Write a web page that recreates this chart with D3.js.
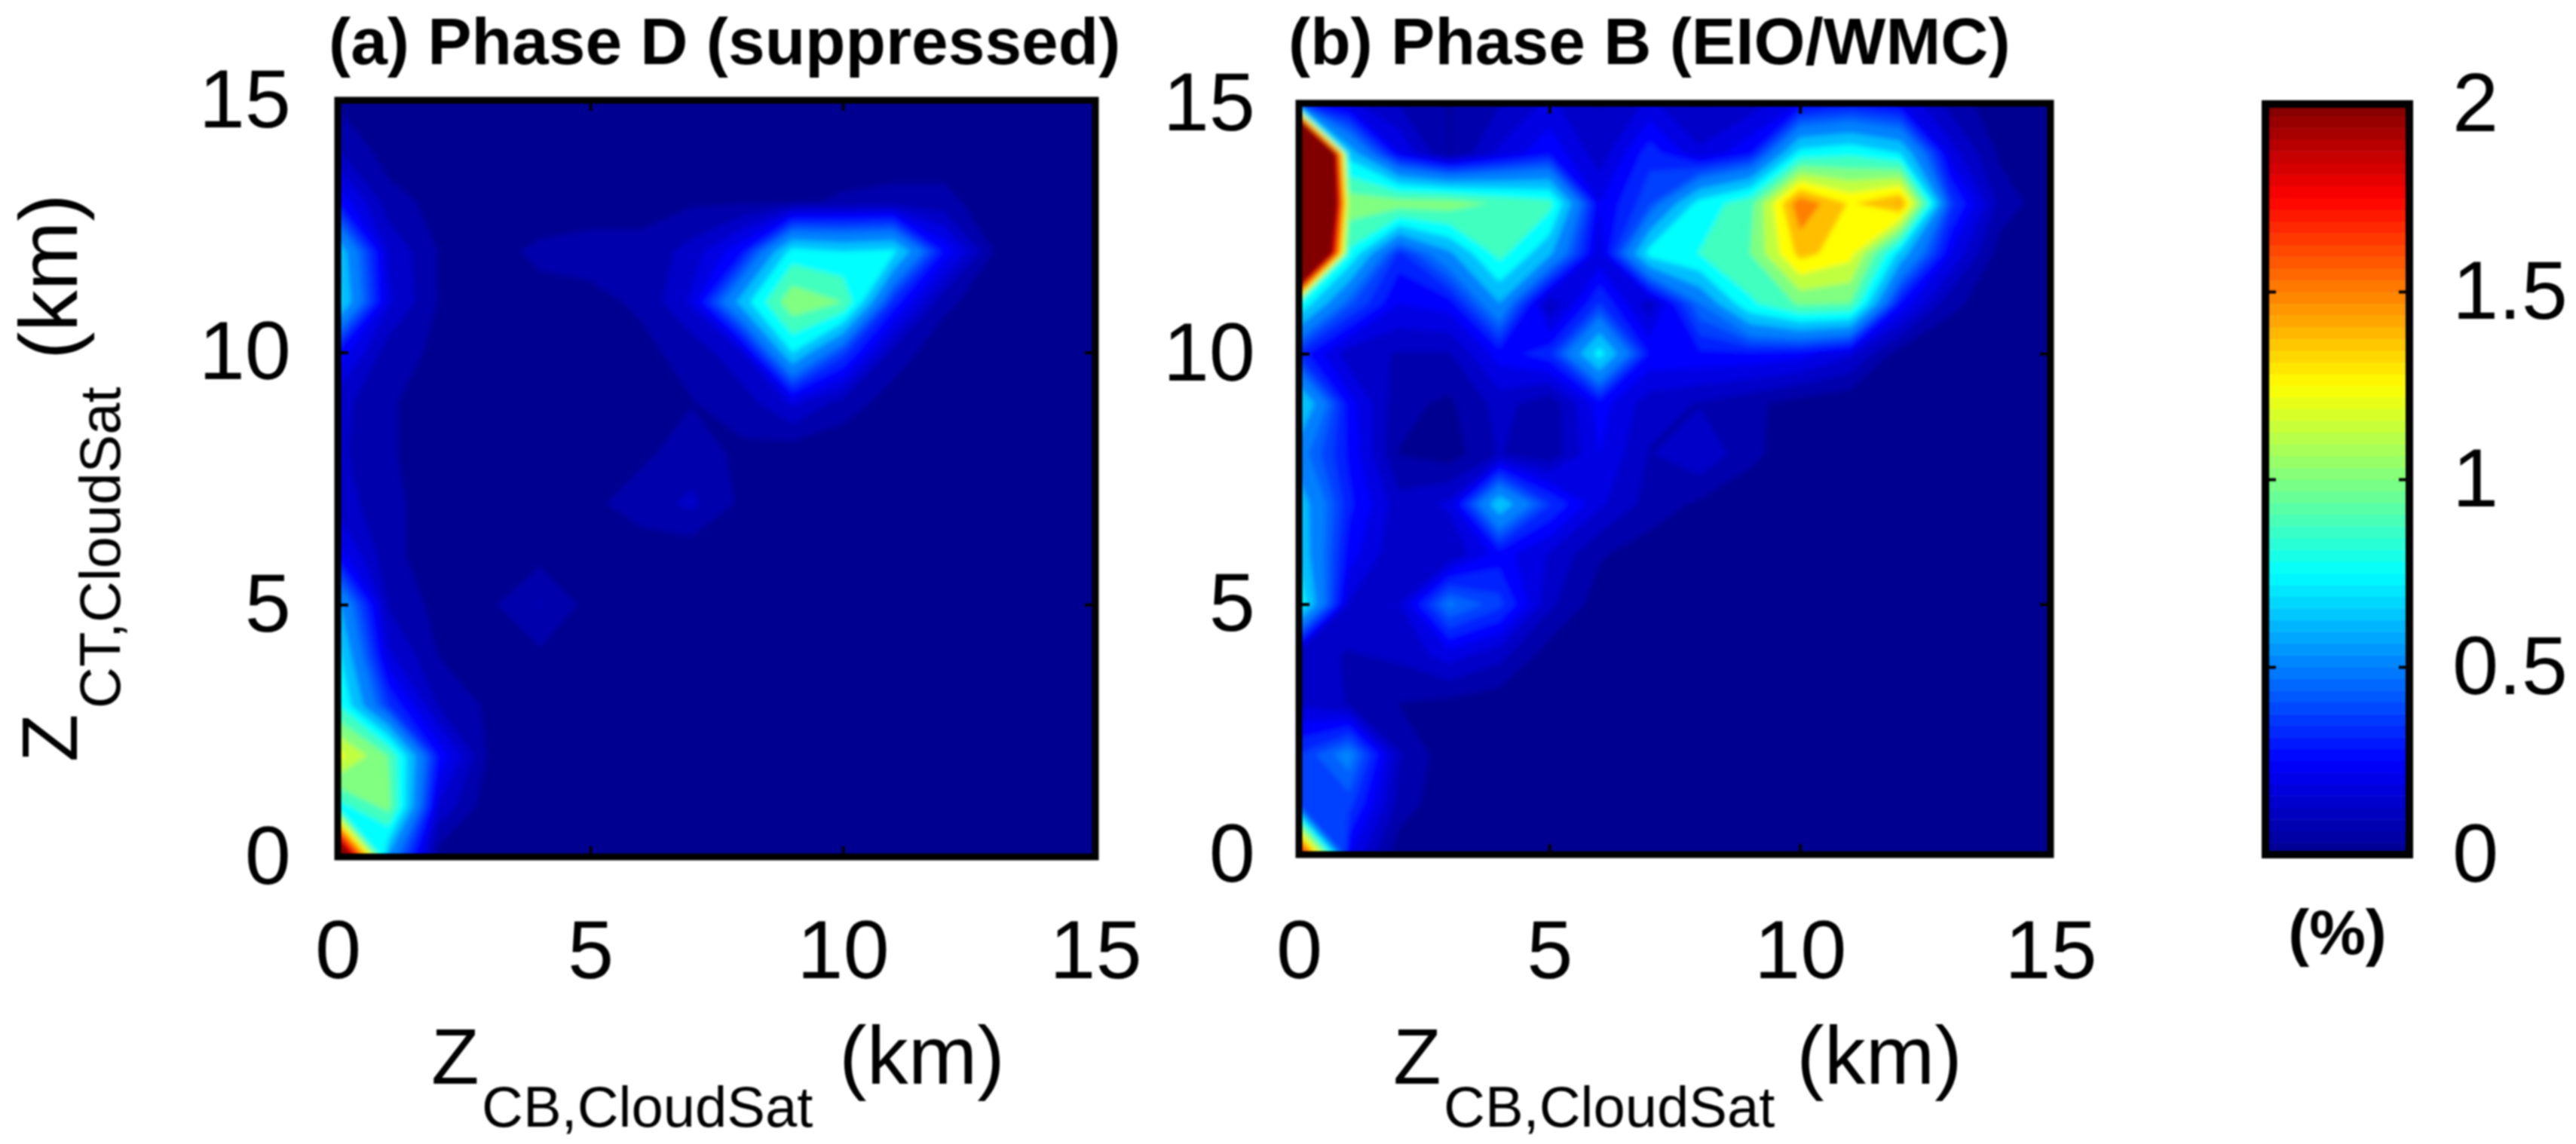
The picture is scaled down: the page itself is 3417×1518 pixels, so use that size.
<!DOCTYPE html>
<html>
<head>
<meta charset="utf-8">
<script src="https://cdn.jsdelivr.net/npm/d3@7"></script>
<style>
  html, body { margin: 0; background: #fff; }
  svg { display: block; filter: blur(0.8px); }
  text { font-family: "Liberation Sans", Arial, sans-serif; fill: #000; }
</style>
</head>
<body>
<div id="chart"></div>
<script>
// tick labels and contour levels (finer steps in the faint part)
const kmTicks = [0, 5, 10, 15];
const percentTicks = [0, 0.5, 1, 1.5, 2];
const levels = d3.range(0, 0.5, 0.0625).concat(d3.range(0.5, 2.001, 0.125));
const jetStops = [0, 0.25, 0.75, 1.25, 1.75, 2];
const jetColors = ["#000090", "#0000ff", "#00ffff", "#ffff00", "#ff0000", "#800000"];

// one row per Z_CT km (0 at the start), one column per Z_CB km
const phaseD = [
  [2.6, .6, .03, .01, .01, .01, .01, .01, .01, .01, .01, .01, .01, .01, .01, .01],
  [.82, 1.05, .18, .02, .01, .01, .01, .01, .01, .01, .01, .01, .01, .01, .01, .01],
  [1.3, 1.0, .3, .05, .01, .01, .01, .01, .01, .01, .01, .01, .01, .01, .01, .01],
  [.88, .38, .12, .05, .02, .01, .01, .01, .01, .01, .01, .01, .01, .01, .01, .01],
  [.78, .2, .06, .04, .05, .02, .01, .01, .01, .01, .01, .01, .01, .01, .01, .01],
  [.65, .12, .04, .05, .13, .04, .01, .01, .01, .01, .01, .01, .01, .01, .01, .01],
  [.28, .08, .03, .03, .04, .03, .03, .02, .01, .01, .01, .01, .01, .01, .01, .01],
  [.16, .08, .03, .03, .03, .05, .09, .14, .05, .01, .01, .01, .01, .01, .01, .01],
  [.14, .07, .03, .03, .03, .03, .05, .09, .05, .02, .01, .01, .01, .01, .01, .01],
  [.15, .07, .03, .03, .03, .03, .04, .06, .09, .2, .1, .03, .01, .01, .01, .01],
  [.3, .09, .05, .04, .04, .04, .05, .08, .18, .75, .4, .1, .02, .01, .01, .01],
  [.78, .2, .06, .05, .05, .05, .07, .2, .68, 1.1, 1.0, .35, .08, .02, .01, .01],
  [.72, .18, .06, .05, .07, .08, .08, .15, .3, .8, .75, .78, .3, .06, .02, .01],
  [.3, .09, .04, .04, .04, .04, .04, .05, .05, .05, .07, .08, .08, .03, .01, .01],
  [.13, .03, .03, .03, .03, .03, .03, .03, .03, .03, .03, .03, .03, .02, .01, .01],
  [.05, .02, .02, .02, .02, .02, .02, .02, .02, .02, .02, .02, .02, .01, .01, .01]
];

const phaseB = [
  [2.0, .25, .02, .01, .01, .01, .01, .01, .01, .01, .01, .01, .01, .01, .01, .01],
  [.42, .4, .1, .01, .01, .01, .01, .01, .01, .01, .01, .01, .01, .01, .01, .01],
  [.38, .55, .13, .02, .01, .01, .01, .01, .01, .01, .01, .01, .01, .01, .01, .01],
  [.18, .12, .06, .04, .02, .01, .01, .01, .01, .01, .01, .01, .01, .01, .01, .01],
  [.15, .12, .14, .22, .15, .03, .01, .01, .01, .01, .01, .01, .01, .01, .01, .01],
  [.85, .18, .18, .52, .4, .14, .03, .01, .01, .01, .01, .01, .01, .01, .01, .01],
  [.72, .28, .13, .13, .28, .18, .07, .03, .01, .01, .01, .01, .01, .01, .01, .01],
  [.7, .33, .15, .2, .72, .38, .2, .1, .05, .02, .01, .01, .01, .01, .01, .01],
  [.55, .3, .06, .03, .13, .08, .25, .12, .18, .08, .02, .01, .01, .01, .01, .01],
  [.78, .28, .08, .05, .15, .08, .28, .15, .12, .08, .03, .01, .01, .01, .01, .01],
  [.35, .15, .12, .12, .28, .35, .8, .3, .3, .3, .28, .2, .03, .01, .01, .01],
  [.85, .45, .25, .28, .62, .12, .38, .14, .5, .85, 1.02, 1.0, .3, .08, .02, .02],
  [4.2, .85, .35, .6, .92, .65, .2, .8, .88, 1.0, 1.42, 1.3, .7, .25, .03, .02],
  [5, 1.08, 1.07, 1.07, .98, .92, .25, .42, .8, .95, 1.6, 1.36, 1.52, .4, .1, .02],
  [5.5, .7, .25, .06, .2, .3, .15, .35, .2, .3, .8, .85, .75, .22, .05, .02],
  [.3, .2, .12, .06, .12, .2, .12, .2, .12, .15, .25, .3, .25, .1, .02, .01]
];

const svg = d3.select("#chart")
  .append("svg")
  .attr("width", 3417)
  .attr("height", 1518);

const jet = d3.scaleLinear()
  .domain(jetStops)
  .range(jetColors);

// soft edge on the filled bands
svg.append("defs").append("filter")
  .attr("id", "soft")
  .attr("x", "-2%").attr("y", "-2%").attr("width", "104%").attr("height", "104%")
  .append("feGaussianBlur")
  .attr("stdDeviation", 3);

function drawPanel(id, rows, box, title, titleX, padLeft, padBottom) {

  const x = d3.scaleLinear().domain([0, 15]).range([box.left, box.right]);
  const y = d3.scaleLinear().domain([0, 15]).range([box.bottom, box.top]);

  svg.select("defs").append("clipPath")
    .attr("id", id)
    .append("rect")
    .attr("x", box.left)
    .attr("y", box.top)
    .attr("width", box.right - box.left)
    .attr("height", box.bottom - box.top);

  const contours = d3.contours()
    .size([rows[0].length, rows.length])
    .thresholds(levels)(d3.merge(rows));

  // contour coordinates hold each value at index + 0.5
  const path = d3.geoPath(d3.geoTransform({
    point: function(cx, cy) {
      this.stream.point(x(cx - 0.5), y(cy - 0.5));
    }
  }));

  svg.append("g")
    .attr("clip-path", `url(#${id})`)
    .append("g")
    .attr("filter", "url(#soft)")
    .selectAll("path")
    .data(contours)
    .enter()
    .append("path")
    .attr("d", path)
    .attr("fill", function(d) {
      return jet(d.value);
    });

  svg.append("rect")
    .attr("x", box.left)
    .attr("y", box.top)
    .attr("width", box.right - box.left)
    .attr("height", box.bottom - box.top)
    .attr("fill", "none")
    .attr("stroke", "#000")
    .attr("stroke-width", 9);

  styleAxis(svg.append("g")
    .attr("transform", `translate(0,${box.bottom})`)
    .call(d3.axisBottom(x).tickValues(kmTicks).tickSize(-14).tickPadding(padBottom)));
  styleAxis(svg.append("g")
    .attr("transform", `translate(${box.left},0)`)
    .call(d3.axisLeft(y).tickValues(kmTicks).tickSize(-14).tickPadding(padLeft)));
  styleAxis(svg.append("g")
    .attr("transform", `translate(0,${box.top})`)
    .call(d3.axisTop(x).tickValues(kmTicks).tickSize(-14).tickFormat("")));
  styleAxis(svg.append("g")
    .attr("transform", `translate(${box.right},0)`)
    .call(d3.axisRight(y).tickValues(kmTicks).tickSize(-14).tickFormat("")));

  svg.append("text")
    .attr("x", titleX)
    .attr("y", 85)
    .attr("font-size", 87.5)
    .attr("font-weight", "bold")
    .text(title);
}

function styleAxis(g) {
  g.select(".domain").remove();
  g.selectAll("line").attr("stroke", "#000").attr("stroke-width", 4);
  g.selectAll("text").attr("font-size", 110).attr("font-family", null);
  g.attr("font-family", null);
}

// Z with a subscript, then the unit, along one baseline
function axisTitle(transform, sub, subX, unitX) {
  const g = svg.append("g").attr("transform", transform);
  g.append("text").attr("x", 0).attr("y", 0).attr("font-size", 104).text("Z");
  g.append("text").attr("x", subX).attr("y", 57).attr("font-size", 76).text(sub);
  g.append("text").attr("x", unitX).attr("y", 0).attr("font-size", 110).text("(km)");
}

drawPanel("clipA", phaseD, {left: 448, right: 1453, top: 133, bottom: 1137},
  "(a) Phase D (suppressed)", 436, 62, 83);
drawPanel("clipB", phaseB, {left: 1723, right: 2720, top: 137, bottom: 1134},
  "(b) Phase B (EIO/WMC)", 1709, 58, 86);

axisTitle("translate(572,1438)", "CB,CloudSat", 67, 541);
axisTitle("translate(1848,1438)", "CB,CloudSat", 67, 535);
axisTitle("translate(102,1011) rotate(-90)", "CT,CloudSat", 71, 534);

// colour bar
const barBox = {left: 3005, right: 3196, top: 138, bottom: 1134};
const barScale = d3.scaleLinear().domain([0, 2]).range([barBox.bottom, barBox.top]);
const barSteps = d3.range(0, 2, 2 / 64);

svg.append("g")
  .selectAll("rect")
  .data(barSteps)
  .enter()
  .append("rect")
  .attr("x", barBox.left)
  .attr("width", barBox.right - barBox.left)
  .attr("y", function(d) {
    return barScale(d + 2 / 64);
  })
  .attr("height", function() {
    return barScale(0) - barScale(2 / 64) + 0.5;
  })
  .attr("fill", function(d) {
    return jet(d + 1 / 64);
  });

svg.append("rect")
  .attr("x", barBox.left)
  .attr("y", barBox.top)
  .attr("width", barBox.right - barBox.left)
  .attr("height", barBox.bottom - barBox.top)
  .attr("fill", "none")
  .attr("stroke", "#000")
  .attr("stroke-width", 10);

styleAxis(svg.append("g")
  .attr("transform", `translate(${barBox.right},0)`)
  .call(d3.axisRight(barScale).tickValues(percentTicks).tickSize(-14).tickPadding(57)
    .tickFormat(d3.format("~g"))));
styleAxis(svg.append("g")
  .attr("transform", `translate(${barBox.left},0)`)
  .call(d3.axisLeft(barScale).tickValues(percentTicks).tickSize(-14).tickFormat("")));

svg.append("text")
  .attr("x", (barBox.left + barBox.right) / 2)
  .attr("y", 1266)
  .attr("text-anchor", "middle")
  .attr("font-size", 84)
  .attr("font-weight", "bold")
  .text("(%)");
</script>
</body>
</html>
